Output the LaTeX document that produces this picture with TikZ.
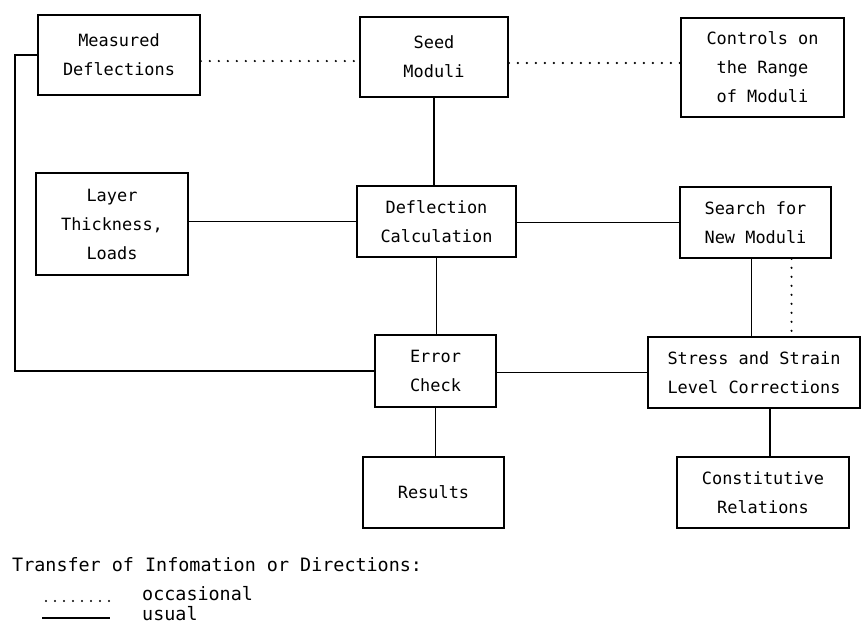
\documentclass[tikz,border=0pt]{standalone}
\usepackage{fontspec}
\setmonofont{DejaVu Sans Mono}
\usepackage{tikz}

\tikzset{
	blok/.style={draw, line width=1.6pt, align=center, inner sep=2pt,
		font=\ttfamily\fontsize{16.9}{29}\selectfont},
	usual/.style={line width=1.6pt},
	occas/.style={line width=2.4pt, line cap=round, dash pattern=on 0pt off 9pt},
	legtext/.style={anchor=west, inner sep=0pt, font=\ttfamily\fontsize{18.4}{20}\selectfont}
}

\begin{document}
\begin{tikzpicture}[x=1pt,y=-1pt]
				\useasboundingbox (0,0) rectangle (862,630);
				
				% top row
				\node[blok, minimum width=162, minimum height=80] (md) at (119,55) {Measured\\Deflections};
				\node[blok, minimum width=148, minimum height=80] (seed) at (434,57) {Seed\\Moduli};
				\node[blok, minimum width=163, minimum height=99] (ctrl) at (762.5,67.5) {Controls on\\the Range\\of Moduli};
				
				% second row
				\node[blok, minimum width=152, minimum height=102] (layer) at (112,224) {Layer\\Thickness,\\Loads};
				\node[blok, minimum width=159, minimum height=71] (defl) at (436.5,221.5) {Deflection\\Calculation};
				\node[blok, minimum width=151, minimum height=71] (search) at (755.5,222.5) {Search for\\New Moduli};
				
				% third row
				\node[blok, minimum width=121, minimum height=72] (err) at (435.5,371) {Error\\Check};
				\node[blok, minimum width=212, minimum height=71] (stress) at (754,372.5) {Stress and Strain\\Level Corrections};
				
				% bottom row
				\node[blok, minimum width=141, minimum height=71] (results) at (433.5,492.5) {Results};
				\node[blok, minimum width=172, minimum height=71] (const) at (763,492.5) {Constitutive\\Relations};
				
				% occasional links
				\foreach \x/\y in
				{md/seed, seed/ctrl}{
					\draw[occas] ([yshift=-6pt]\x.east) -- ([yshift=-6pt]\x.east -| \y.west);
				}
				\draw[occas] ([xshift=36pt]search.south) -- ([xshift=36pt]search.south |- stress.north);
				
				% usual links
				\foreach \x/\y in
				{layer/defl, defl/search, err/stress}{
					\draw[usual] (\y.west -| \x.east) -- (\y.west);
				}
				\foreach \x/\y in
				{seed/defl, defl/err, err/results}{
					\draw[usual] (\x.south) -- (\x.south |- \y.north);
				}
				\draw[usual] ([xshift=-4pt]search.south) -- ([xshift=-4pt]search.south |- stress.north);
				\draw[usual] ([xshift=7pt]const.north) -- ([xshift=7pt]const.north |- stress.south);
				\draw[usual] (md.west) -- ++(-22,0) |- (err.west);
				
				% legend
				\node[legtext] (legtitle) at (12,565) {Transfer of Infomation or Directions:};
				\node[legtext] (legocc) at (142,594) {occasional};
				\node[legtext] (legusu) at (142,614) {usual};
				\coordinate (oa) at (46,601);
				\coordinate (ob) at (114,601);
				\coordinate (ua) at (42,618);
				\coordinate (ub) at (110,618);
				\draw[occas] (oa) -- (ob);
				\draw[usual] (ua) -- (ub);
			\end{tikzpicture}
\end{document}
